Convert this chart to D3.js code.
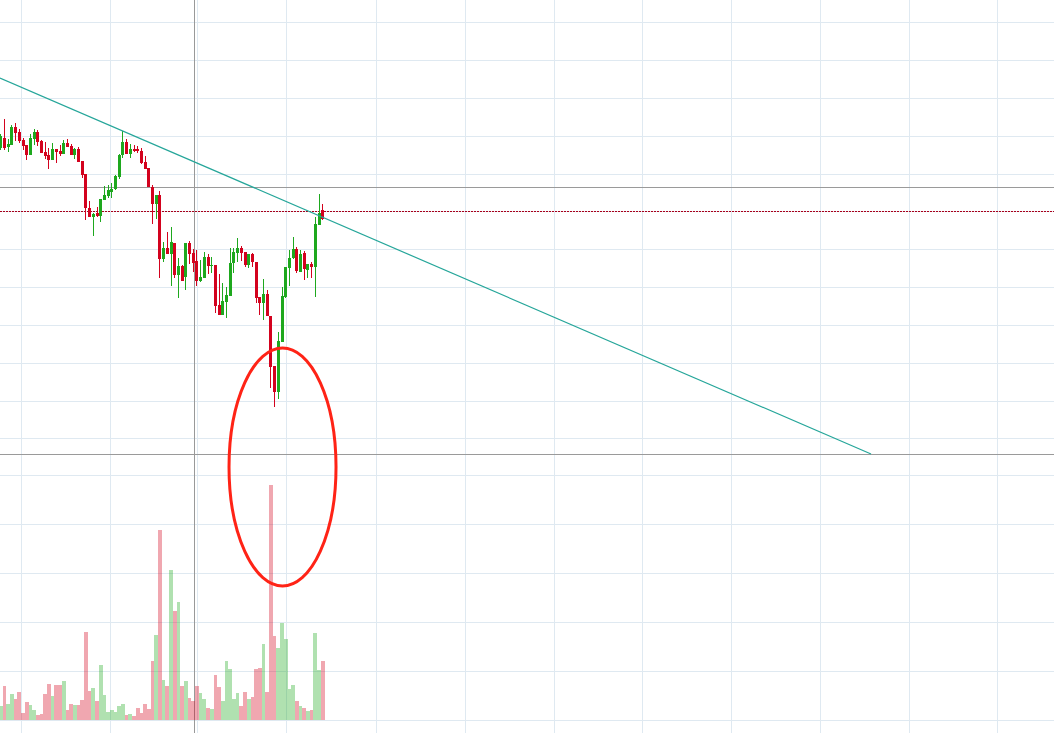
<!DOCTYPE html>
<html><head><meta charset="utf-8">
<script src="https://cdn.jsdelivr.net/npm/d3@7"></script>
<style>html,body{margin:0;padding:0;background:#fff;overflow:hidden}svg{display:block}</style>
</head><body><svg id="c" width="1054" height="733"></svg>
<script>
// ---- data (price units, volume units, candle index = position in arrays) ----
const opens  = [45.2,46.2,45.3,45.5,47.3,46.8,46.0,45.5,44.5,46.1,46.8,45.9,44.8,44.5,44.0,45.1,44.9,44.6,45.7,45.4,44.5,45.1,43.9,42.6,39.2,38.3,38.7,38.4,40.0,40.4,40.8,41.1,42.3,44.5,45.8,44.6,45.1,45.1,44.9,43.8,43.2,41.3,39.6,40.5,34.1,35.2,34.6,35.7,32.5,33.4,32.3,35.7,34.7,33.9,31.9,32.2,34.3,33.4,33.5,29.5,28.5,29.8,30.4,33.7,34.7,35.2,34.8,33.5,34.6,33.8,30.3,29.7,30.6,28.4,23.4,20.8,25.8,30.3,33.2,34.2,35.1,32.8,34.7,33.0,33.6,33.3,37.5,39.0];
const highs  = [46.6,48.1,46.1,47.5,47.7,47.1,46.2,45.5,46.6,47.1,47.0,46.0,45.8,45.2,45.7,45.1,45.5,46.0,46.1,45.6,45.2,45.3,43.9,42.6,39.9,38.7,39.3,40.1,41.4,41.5,41.7,42.5,44.6,46.9,46.1,45.6,45.5,45.4,45.2,44.4,43.2,41.5,40.5,40.9,35.8,36.8,37.3,35.7,34.2,33.5,35.7,35.9,35.1,35.0,34.0,34.8,34.6,34.3,33.5,32.6,31.7,31.3,35.2,35.2,36.2,35.4,34.8,34.6,34.7,33.8,30.3,32.1,31.0,28.4,23.4,26.8,31.3,33.3,35.0,36.3,35.3,35.0,34.9,33.6,33.8,38.3,40.6,39.6];
const lows   = [45.0,45.0,44.8,45.5,45.9,45.7,45.0,44.0,44.5,45.5,45.4,44.7,44.1,43.1,44.0,43.7,44.4,44.6,45.3,44.5,44.1,43.8,42.2,38.0,38.3,36.4,38.3,37.8,40.0,40.2,40.2,41.0,42.1,44.2,44.6,44.2,44.8,44.7,43.6,43.1,41.3,37.6,38.1,32.2,33.8,34.6,31.4,32.2,30.2,31.9,31.0,33.6,32.8,31.4,31.8,32.2,32.6,32.7,28.7,28.5,28.5,28.2,30.4,32.7,33.8,33.9,33.3,33.2,33.3,29.7,28.5,28.0,28.4,21.2,19.3,20.1,25.8,30.2,31.4,34.1,32.7,32.8,32.0,32.2,32.2,30.3,37.5,38.0];
const closes = [46.4,45.2,45.6,47.3,46.7,45.9,45.4,44.5,46.2,46.8,45.8,44.7,44.4,44.0,45.1,44.8,44.6,45.7,45.3,44.5,45.1,43.8,42.5,39.2,38.3,38.6,38.4,40.1,40.5,41.0,41.1,42.4,44.5,45.8,44.6,45.1,44.9,44.9,43.7,43.1,41.3,39.6,40.5,34.1,35.2,34.6,35.8,32.5,33.4,31.9,35.7,34.6,33.7,31.9,32.3,34.3,33.4,33.5,29.4,28.5,29.9,30.5,33.7,34.8,35.2,34.7,33.5,34.6,33.8,30.2,29.7,30.6,28.4,23.3,20.8,25.9,30.4,33.3,34.2,35.1,32.9,34.6,33.1,33.6,33.3,37.6,38.7,38.1];
const volumes = [14.6,35,16.6,26.8,21.7,28.9,7.4,18.7,15.6,10.5,5.4,6.4,26.8,37,24.8,36,36,40.1,10.5,16.6,15.6,15.6,20.7,90.1,29.9,33,19.7,56.4,25.8,8.5,10.5,8.5,14.6,16.6,5.4,6.4,4.4,12.6,7.4,16.6,11.5,60.5,87,194.2,41.1,35,153.4,111.5,120.7,35,40.1,22.8,19.7,35,27.9,21.7,12.6,11.5,46.2,34,19.7,60.5,52.3,21.7,27.9,14.6,28.9,21.7,23.8,52.3,53.4,77.9,28.9,240.1,86,73.8,99.3,83,31.9,36,19.7,14.6,12.6,9.5,10.5,89.1,51.3,60.5];

// grid / reference levels
const timeGrid   = [5.4, 29.4, 53.0, 77.2, 101.3, 125.5, 149.4, 173.4, 197.3, 221.3, 245.4, 269.3];
const priceGrid  = [57.8, 54.0, 50.2, 46.4, 42.6, 38.9, 35.1, 31.3, 27.5, 23.7, 19.9, 16.2];
const volumeGrid = [0, 50, 100, 150, 200, 250];
const crossIndex = 52.3;          // grey vertical marker
const greyLevels = [41.3, 14.6];  // grey horizontal markers (second = pane edge)
const dottedLevel = 38.9;         // last-price dotted line
const trendA = {i: -0.22, p: 52.2};
const trendB = {i: 235.2, p: 14.6};
const circleNote = {i: 76.14, p: 13.3, di: 14.46, dp: 11.9};

// ---- drawing ----
const W = 1054, H = 733;
const svg = d3.select('#c');
const x  = d3.scaleLinear().domain([0, 100]).range([0.8, 370.8]);
const y  = d3.scaleLinear().domain([0, 60]).range([600, 0]);
const yv = d3.scaleLinear().domain([0, 250]).range([720.3, 475.3]);
const step = x(1) - x(0);
const crisp = v => Math.round(v) + 0.5;

const RED = '#d3021e', GREEN = '#1ea81e';
const GRID = '#dfe9f1';

const g = svg.append('g');
g.append('rect').attr('width', W).attr('height', H).attr('fill', '#fff');

// grid
g.selectAll('.vg').data(timeGrid).join('line')
  .attr('x1', d => crisp(x(d))).attr('x2', d => crisp(x(d)))
  .attr('y1', 0).attr('y2', H).attr('stroke', GRID).attr('stroke-width', 1);
g.selectAll('.pg').data(priceGrid).join('line')
  .attr('x1', 0).attr('x2', W)
  .attr('y1', d => crisp(y(d))).attr('y2', d => crisp(y(d)))
  .attr('stroke', GRID).attr('stroke-width', 1);
g.selectAll('.volg').data(volumeGrid).join('line')
  .attr('x1', 0).attr('x2', W)
  .attr('y1', d => crisp(yv(d))).attr('y2', d => crisp(yv(d)))
  .attr('stroke', GRID).attr('stroke-width', 1);

// grey markers
g.append('line').attr('x1', crisp(x(crossIndex))).attr('x2', crisp(x(crossIndex)))
  .attr('y1', 0).attr('y2', H).attr('stroke', '#999').attr('stroke-width', 1);
g.selectAll('.gl').data(greyLevels).join('line')
  .attr('x1', 0).attr('x2', W)
  .attr('y1', d => crisp(y(d))).attr('y2', d => crisp(y(d)))
  .attr('stroke', '#9a9a9a').attr('stroke-width', 1);

// volume bars
const idx = d3.range(opens.length);
g.append('g').attr('shape-rendering', 'crispEdges').selectAll('rect').data(idx).join('rect')
  .attr('x', i => x(i) - step / 2)
  .attr('width', step)
  .attr('y', i => yv(volumes[i]))
  .attr('height', i => yv(0) - yv(volumes[i]))
  .attr('fill', i => closes[i] >= opens[i] ? GREEN : RED)
  .attr('fill-opacity', 0.35);

// dotted last price line
g.append('line').attr('x1', 0).attr('x2', W)
  .attr('y1', crisp(y(dottedLevel))).attr('y2', crisp(y(dottedLevel)))
  .attr('stroke', '#a8001a').attr('stroke-width', 1).attr('stroke-dasharray', '2,1');

// candles
const cg = g.append('g').attr('shape-rendering', 'crispEdges');
const bx = i => Math.round(x(i) - 1.5);
cg.selectAll('.wick').data(idx).join('line')
  .attr('x1', i => bx(i) + 1.5).attr('x2', i => bx(i) + 1.5)
  .attr('y1', i => y(highs[i])).attr('y2', i => y(lows[i]))
  .attr('stroke', i => closes[i] >= opens[i] ? GREEN : RED).attr('stroke-width', 1);
cg.selectAll('.body').data(idx).join('rect')
  .attr('x', i => bx(i)).attr('width', 3)
  .attr('y', i => y(Math.max(opens[i], closes[i])))
  .attr('height', i => Math.max(1, Math.abs(y(opens[i]) - y(closes[i]))))
  .attr('fill', i => closes[i] >= opens[i] ? GREEN : RED);

// trend line
g.append('line')
  .attr('x1', x(trendA.i)).attr('y1', y(trendA.p))
  .attr('x2', x(trendB.i)).attr('y2', y(trendB.p))
  .attr('stroke', '#26a69a').attr('stroke-width', 1.2);

// annotation ellipse
g.append('ellipse')
  .attr('cx', x(circleNote.i)).attr('cy', y(circleNote.p))
  .attr('rx', x(circleNote.i + circleNote.di) - x(circleNote.i))
  .attr('ry', y(circleNote.p - circleNote.dp) - y(circleNote.p))
  .attr('fill', 'none').attr('stroke', '#ff2316').attr('stroke-width', 3);
</script>
</body></html>
